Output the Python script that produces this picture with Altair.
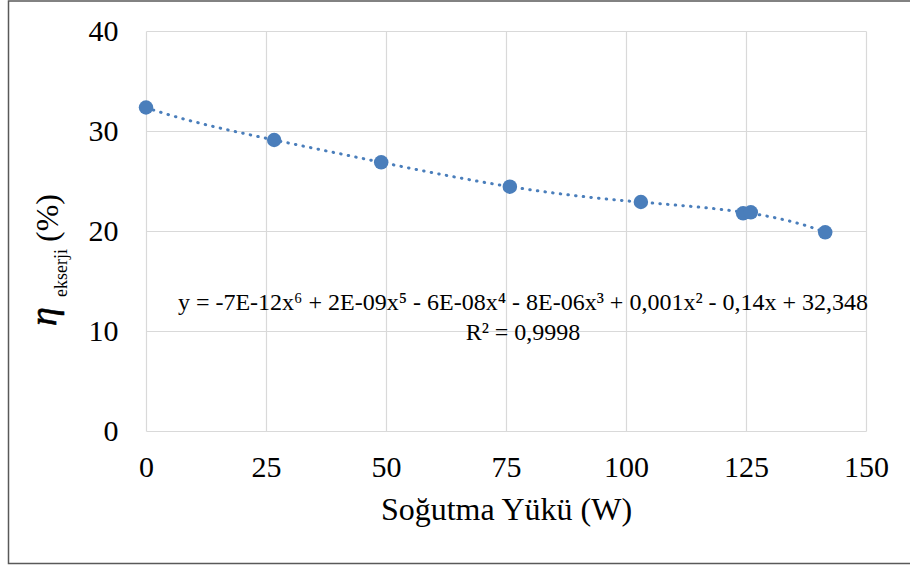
import altair as alt
import pandas as pd

# Measured cooling load (W) and exergy efficiency (%)
load_w = [0, 26.7, 49.0, 75.8, 103.1, 124.4, 126.0, 141.5]
exergy_eff = [32.35, 29.1, 26.87, 24.43, 22.9, 21.77, 21.87, 19.87]

x_ticks = [0, 25, 50, 75, 100, 125, 150]
y_ticks = [0, 10, 20, 30, 40]

equation = "y = -7E-12x\u2076 + 2E-09x\u2075 - 6E-08x\u2074 - 8E-06x\u00b3 + 0,001x\u00b2 - 0,14x + 32,348"
r_squared = "R\u00b2 = 0,9998"

BLUE = "#4A7EBB"
FONT = "Liberation Serif"
W, H = 720, 400
LEFT, TOP = 146, 31

df = pd.DataFrame({"load": load_w, "eff": exergy_eff})

x_enc = alt.X(
    "load:Q",
    scale=alt.Scale(domain=[0, 150], nice=False),
    axis=alt.Axis(values=x_ticks, title="Soğutma Yükü (W)", labelPadding=21,
                  titlePadding=12, labelFlush=False),
)
y_enc = alt.Y(
    "eff:Q",
    scale=alt.Scale(domain=[0, 40], nice=False),
    axis=alt.Axis(values=y_ticks, title=None, labelPadding=28, labelFlush=False),
)

base = alt.Chart(df)

points = base.mark_circle(size=210, color=BLUE, opacity=1).encode(x=x_enc, y=y_enc)

trend = (
    base.transform_regression("load", "eff", method="poly", order=6)
    .mark_line(color=BLUE, strokeWidth=3, strokeDash=[0.5, 7.2], strokeCap="round")
    .encode(x=x_enc, y=y_enc)
)

eq_text = alt.Chart(pd.DataFrame({"t": [equation]})).mark_text(
    font=FONT, fontSize=24, color="black", align="center", baseline="middle"
).encode(text="t:N", x=alt.value(377), y=alt.value(272))

r2_text = alt.Chart(pd.DataFrame({"t": [r_squared]})).mark_text(
    font=FONT, fontSize=24, color="black", align="center", baseline="middle"
).encode(text="t:N", x=alt.value(377), y=alt.value(302))

# Rotated y-axis title built from pieces: eta, subscript, unit
eta = alt.Chart(pd.DataFrame({"t": ["\u03b7"]})).mark_text(
    font=FONT, fontSize=38, fontStyle="italic", color="black", angle=270,
    align="left", baseline="alphabetic", stroke="black", strokeWidth=0.6
).encode(text="t:N", x=alt.value(56 - LEFT), y=alt.value(326 - TOP))

sub = alt.Chart(pd.DataFrame({"t": ["ekserji"]})).mark_text(
    font=FONT, fontSize=18, color="black", angle=270,
    align="left", baseline="alphabetic"
).encode(text="t:N", x=alt.value(67 - LEFT), y=alt.value(297 - TOP))

unit = alt.Chart(pd.DataFrame({"t": ["(%)"]})).mark_text(
    font=FONT, fontSize=32, color="black", angle=270,
    align="left", baseline="alphabetic"
).encode(text="t:N", x=alt.value(58 - LEFT), y=alt.value(242 - TOP))

# Outer chart frame (left, top and bottom edges inside the canvas)
frame = alt.Chart(pd.DataFrame({"a": [0]})).mark_rect(
    fill=None, stroke="#595959", strokeWidth=1.5
).encode(
    x=alt.value(8.5 - LEFT), x2=alt.value(915 - LEFT),
    y=alt.value(1 - TOP), y2=alt.value(563.5 - TOP),
)

chart = (
    alt.layer(frame, trend, points, eq_text, r2_text, eta, sub, unit)
    .properties(
        width=W, height=H,
        autosize=alt.AutoSizeParams(type="none"),
        padding={"left": LEFT, "top": TOP, "right": 910 - LEFT - W, "bottom": 567 - TOP - H},
        background="white",
    )
    .configure_view(stroke=None)
    .configure_axis(
        labelFont=FONT, labelFontSize=30, labelColor="black",
        titleFont=FONT, titleFontSize=32, titleFontWeight="normal", titleColor="black",
        ticks=False, domain=False, grid=True, gridColor="#d9d9d9", gridWidth=1.2,
    )
)

chart.save("out.html", embed_options={"renderer": "svg", "actions": False})
